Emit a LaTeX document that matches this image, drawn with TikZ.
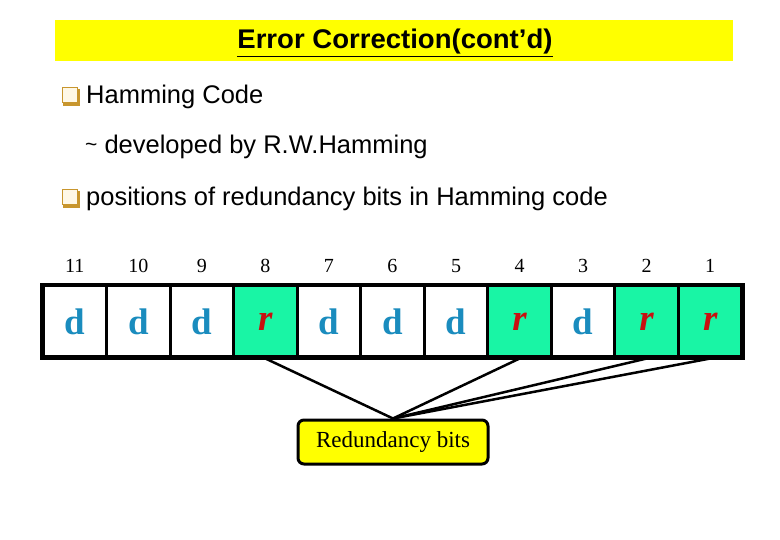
\documentclass[tikz,border=0pt]{standalone}
\usepackage{fontspec}
\setmainfont{Liberation Sans}
\newfontfamily\timesfont{Liberation Serif}
\usepackage{xcolor}
\usetikzlibrary{positioning,calc}
\definecolor{titley}{HTML}{FFFF00}
\definecolor{redgreen}{HTML}{19F5A5}
\definecolor{dblue}{HTML}{1A8CBE}
\definecolor{rred}{HTML}{C81010}
\definecolor{goldx}{HTML}{C8962E}
\definecolor{creamx}{HTML}{FFF8E6}
\tikzset{
  cell/.style={draw=black,line width=3pt,minimum width=63.5pt,minimum height=71pt,inner sep=0pt},
  dbit/.style={cell,fill=white,text=dblue,font=\timesfont\bfseries\fontsize{37}{37}\selectfont},
  rbit/.style={cell,fill=redgreen,text=rred,font=\timesfont\bfseries\itshape\fontsize{37}{37}\selectfont},
  num/.style={font=\timesfont\fontsize{20}{20}\selectfont},
  txt/.style={anchor=west,inner sep=0pt,font=\fontsize{25.5}{27}\selectfont},
  link/.style={line width=2.5pt,black},
  rbox/.style={draw=black,line width=3pt,rounded corners=6pt,fill=titley,minimum width=190pt,minimum height=44pt,font=\timesfont\fontsize{23}{23}\selectfont}
}
% bullet square with gold shadow
\newcommand{\qbullet}[1]{%
  \fill[goldx] ($(#1)+(1,1)$) rectangle ++(17,17);
  \draw[goldx,fill=creamx,line width=1pt] ($(#1)+(0,0)$) rectangle ++(15,15);
}
\begin{document}
\begin{tikzpicture}[x=1pt,y=-1pt]
\useasboundingbox (0,0) rectangle (780,540);
\fill[white] (0,0) rectangle (780,540);
% title bar
\fill[titley] (55,20) rectangle (733,61);
\node[font=\bfseries\fontsize{27}{27}\selectfont,xscale=1.02] (title) at (395,43) {\underline{Error Correction(cont'd)}};
% bullets
\coordinate (b1) at (62,88);
\coordinate (b2) at (62,190);
\qbullet{b1}
\qbullet{b2}
\node[txt] (ham) at (86,97) {Hamming Code};
\node[txt] (dev) at (85,147) {\raisebox{2pt}{\fontsize{21}{21}\selectfont\char`~} developed by R.W.Hamming};
\node[txt] (pos) at (86,199) {positions of redundancy bits in Hamming code};
% bit cells
\foreach \n/\k in {11/0,10/1,9/2,7/4,6/5,5/6,3/8}{
  \node[dbit] (c\n) at (43+31.77+\k*63.545,321.5) {d};
}
\foreach \n/\k in {8/3,4/7,2/9,1/10}{
  \node[rbit] (c\n) at (43+31.77+\k*63.545,321.5) {r};
}
\foreach \n in {11,10,...,1}{
  \node[num,above=8pt of c\n] (n\n) {\n};
}
\draw[line width=3pt] (c11.north west) rectangle (c1.south east);
% redundancy box
\node[rbox] (rb) at (393,442) {Redundancy bits};
\foreach \n in {8,4,2,1}{
  \draw[link] (c\n.south) -- (rb.north);
}
\end{tikzpicture}
\end{document}
